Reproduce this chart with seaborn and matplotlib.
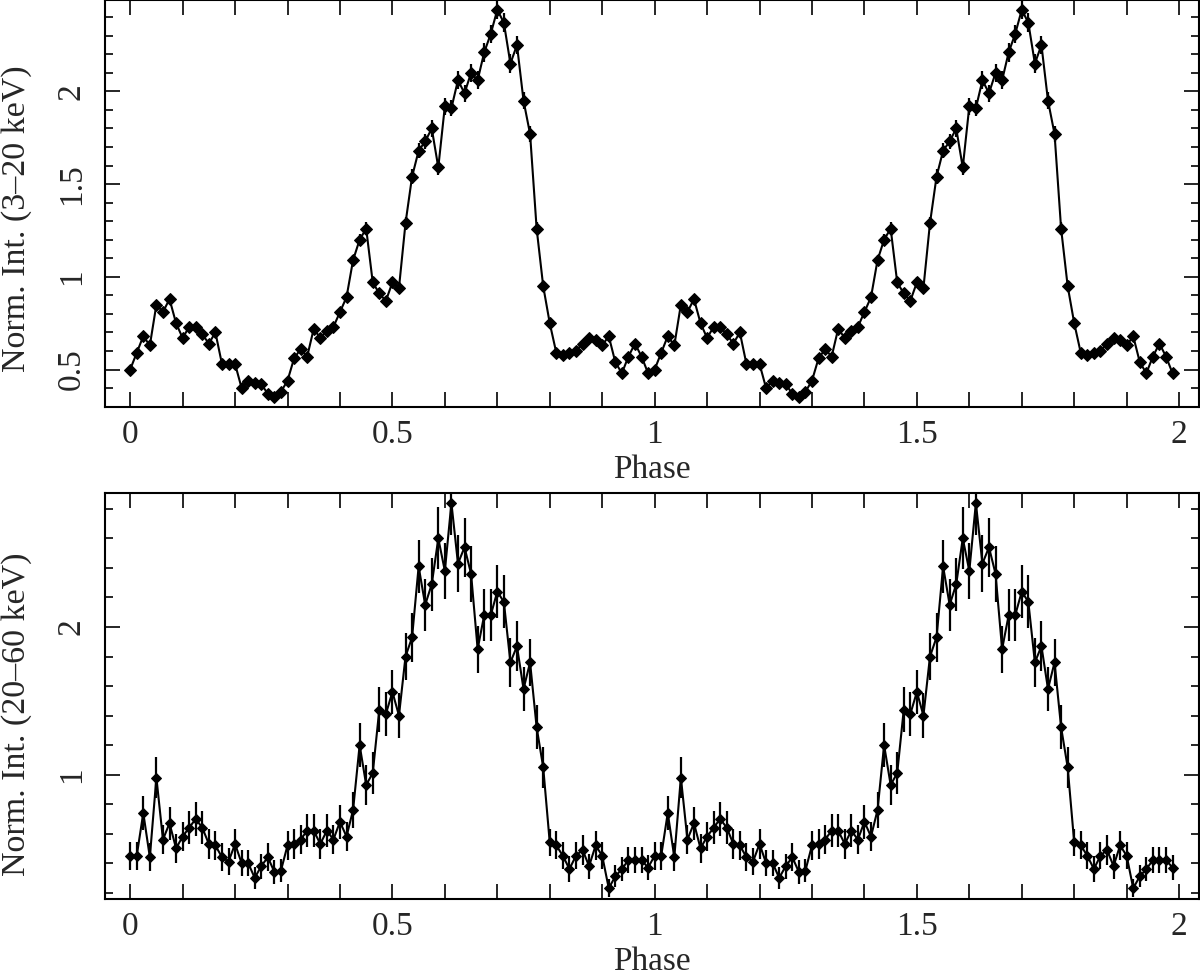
import numpy as np
import pandas as pd
import matplotlib
matplotlib.use("Agg")
import matplotlib.pyplot as plt
import seaborn as sns
from matplotlib.ticker import MultipleLocator, FormatStrFormatter

# pulse profile, 80 bins per cycle, shown twice
n_bins = 80

soft_prof = [0.50, 0.59, 0.68, 0.63, 0.85, 0.81, 0.88, 0.75, 0.67, 0.73,
             0.73, 0.69, 0.64, 0.70, 0.53, 0.53, 0.53, 0.40, 0.44, 0.43,
             0.42, 0.37, 0.35, 0.38, 0.44, 0.56, 0.61, 0.57, 0.72, 0.67,
             0.71, 0.73, 0.81, 0.89, 1.09, 1.20, 1.26, 0.97, 0.91, 0.87,
             0.97, 0.94, 1.29, 1.54, 1.68, 1.73, 1.80, 1.59, 1.92, 1.91,
             2.06, 1.99, 2.10, 2.06, 2.21, 2.31, 2.44, 2.37, 2.15, 2.25,
             1.95, 1.77, 1.26, 0.95, 0.75, 0.59, 0.58, 0.59, 0.60, 0.64,
             0.67, 0.66, 0.63, 0.68, 0.54, 0.48, 0.57, 0.64, 0.57, 0.48]

soft_err = [0.018, 0.018, 0.022, 0.022, 0.022, 0.022, 0.022, 0.022, 0.022, 0.022,
            0.022, 0.022, 0.022, 0.022, 0.018, 0.018, 0.018, 0.016, 0.016, 0.016,
            0.016, 0.015, 0.015, 0.015, 0.016, 0.018, 0.020, 0.018, 0.022, 0.022,
            0.022, 0.022, 0.024, 0.025, 0.030, 0.032, 0.035, 0.030, 0.028, 0.027,
            0.030, 0.030, 0.035, 0.040, 0.042, 0.042, 0.045, 0.040, 0.045, 0.045,
            0.048, 0.046, 0.048, 0.048, 0.050, 0.050, 0.052, 0.050, 0.050, 0.050,
            0.046, 0.042, 0.035, 0.030, 0.024, 0.018, 0.018, 0.018, 0.020, 0.020,
            0.022, 0.022, 0.020, 0.022, 0.018, 0.016, 0.018, 0.020, 0.018, 0.016]

hard_prof = [0.45, 0.45, 0.74, 0.44, 0.98, 0.56, 0.67, 0.50, 0.58, 0.64,
             0.70, 0.64, 0.53, 0.52, 0.44, 0.41, 0.53, 0.40, 0.40, 0.30,
             0.38, 0.44, 0.34, 0.35, 0.52, 0.53, 0.56, 0.62, 0.62, 0.53,
             0.62, 0.56, 0.68, 0.58, 0.76, 1.20, 0.93, 1.01, 1.44, 1.41,
             1.56, 1.40, 1.80, 1.93, 2.41, 2.15, 2.29, 2.60, 2.38, 2.84,
             2.43, 2.54, 2.36, 1.85, 2.08, 2.08, 2.24, 2.17, 1.76, 1.87,
             1.58, 1.76, 1.32, 1.05, 0.54, 0.52, 0.45, 0.36, 0.45, 0.49,
             0.38, 0.52, 0.45, 0.23, 0.31, 0.36, 0.42, 0.42, 0.42, 0.37]

hard_err = [0.095, 0.095, 0.115, 0.095, 0.140, 0.100, 0.110, 0.100, 0.100, 0.110,
            0.115, 0.110, 0.100, 0.100, 0.095, 0.090, 0.100, 0.090, 0.090, 0.075,
            0.085, 0.095, 0.080, 0.080, 0.100, 0.100, 0.100, 0.110, 0.110, 0.100,
            0.110, 0.100, 0.115, 0.100, 0.120, 0.150, 0.135, 0.140, 0.150, 0.150,
            0.150, 0.150, 0.160, 0.165, 0.180, 0.175, 0.180, 0.210, 0.190, 0.220,
            0.190, 0.200, 0.190, 0.160, 0.175, 0.175, 0.180, 0.180, 0.165, 0.170,
            0.150, 0.160, 0.150, 0.140, 0.090, 0.095, 0.090, 0.085, 0.090, 0.100,
            0.085, 0.100, 0.090, 0.060, 0.075, 0.080, 0.090, 0.090, 0.090, 0.085]

phase = np.arange(2 * n_bins) / n_bins

sns.set_style("ticks")
plt.rcParams["font.family"] = ["Liberation Serif", "DejaVu Serif"]

fig = plt.figure(figsize=(12, 9.76), dpi=100)
ax1 = fig.add_axes([0.0875, 0.583, 0.9117, 0.4165])
ax2 = fig.add_axes([0.0875, 0.0789, 0.9117, 0.416])

panels = [
    (ax1, soft_prof, soft_err, "Norm. Int. (3\u201320 keV)", (0.298, 2.49), 0.5, 0.1, 6.5, 0.464),
    (ax2, hard_prof, hard_err, "Norm. Int. (20\u201360 keV)", (0.157, 2.908), 1.0, 0.2, 5.5, 0.455),
]

for ax, prof, err, ylab, ylim, ymaj, ymin, msize, ylab_y in panels:
    df = pd.DataFrame({"Phase": phase,
                       "rate": np.tile(prof, 2),
                       "err": np.tile(err, 2)})
    ax.errorbar(df["Phase"], df["rate"], yerr=df["err"], fmt="none",
                ecolor="black", elinewidth=1.6, capsize=0)
    sns.lineplot(data=df, x="Phase", y="rate", ax=ax, color="black",
                 linewidth=1.5, marker="D", markersize=msize,
                 markeredgecolor="black", markerfacecolor="black")

    ax.set_xlim(-0.048, 2.038)
    ax.set_ylim(*ylim)
    ax.xaxis.set_major_locator(MultipleLocator(0.5))
    ax.xaxis.set_minor_locator(MultipleLocator(0.1))
    ax.yaxis.set_major_locator(MultipleLocator(ymaj))
    ax.yaxis.set_minor_locator(MultipleLocator(ymin))
    ax.xaxis.set_major_formatter(FormatStrFormatter("%g"))
    ax.yaxis.set_major_formatter(FormatStrFormatter("%g"))

    ax.tick_params(which="both", direction="in", top=True, right=True,
                   width=1.4, labelsize=24)
    ax.tick_params(axis="x", which="both", length=10.5, pad=9)
    ax.tick_params(axis="y", which="major", length=10.5, pad=13)
    ax.tick_params(axis="y", which="minor", length=5.5)
    for lab in ax.get_yticklabels():
        lab.set_rotation(90)
        lab.set_va("center")

    for sp in ax.spines.values():
        sp.set_linewidth(1.5)
        sp.set_color("black")

    ax.set_xlabel("Phase", fontsize=24, labelpad=3)
    ax.set_ylabel(ylab, fontsize=24.5)
    ax.yaxis.set_label_coords(-0.067, ylab_y)

fig.savefig("out.png", dpi=100)
